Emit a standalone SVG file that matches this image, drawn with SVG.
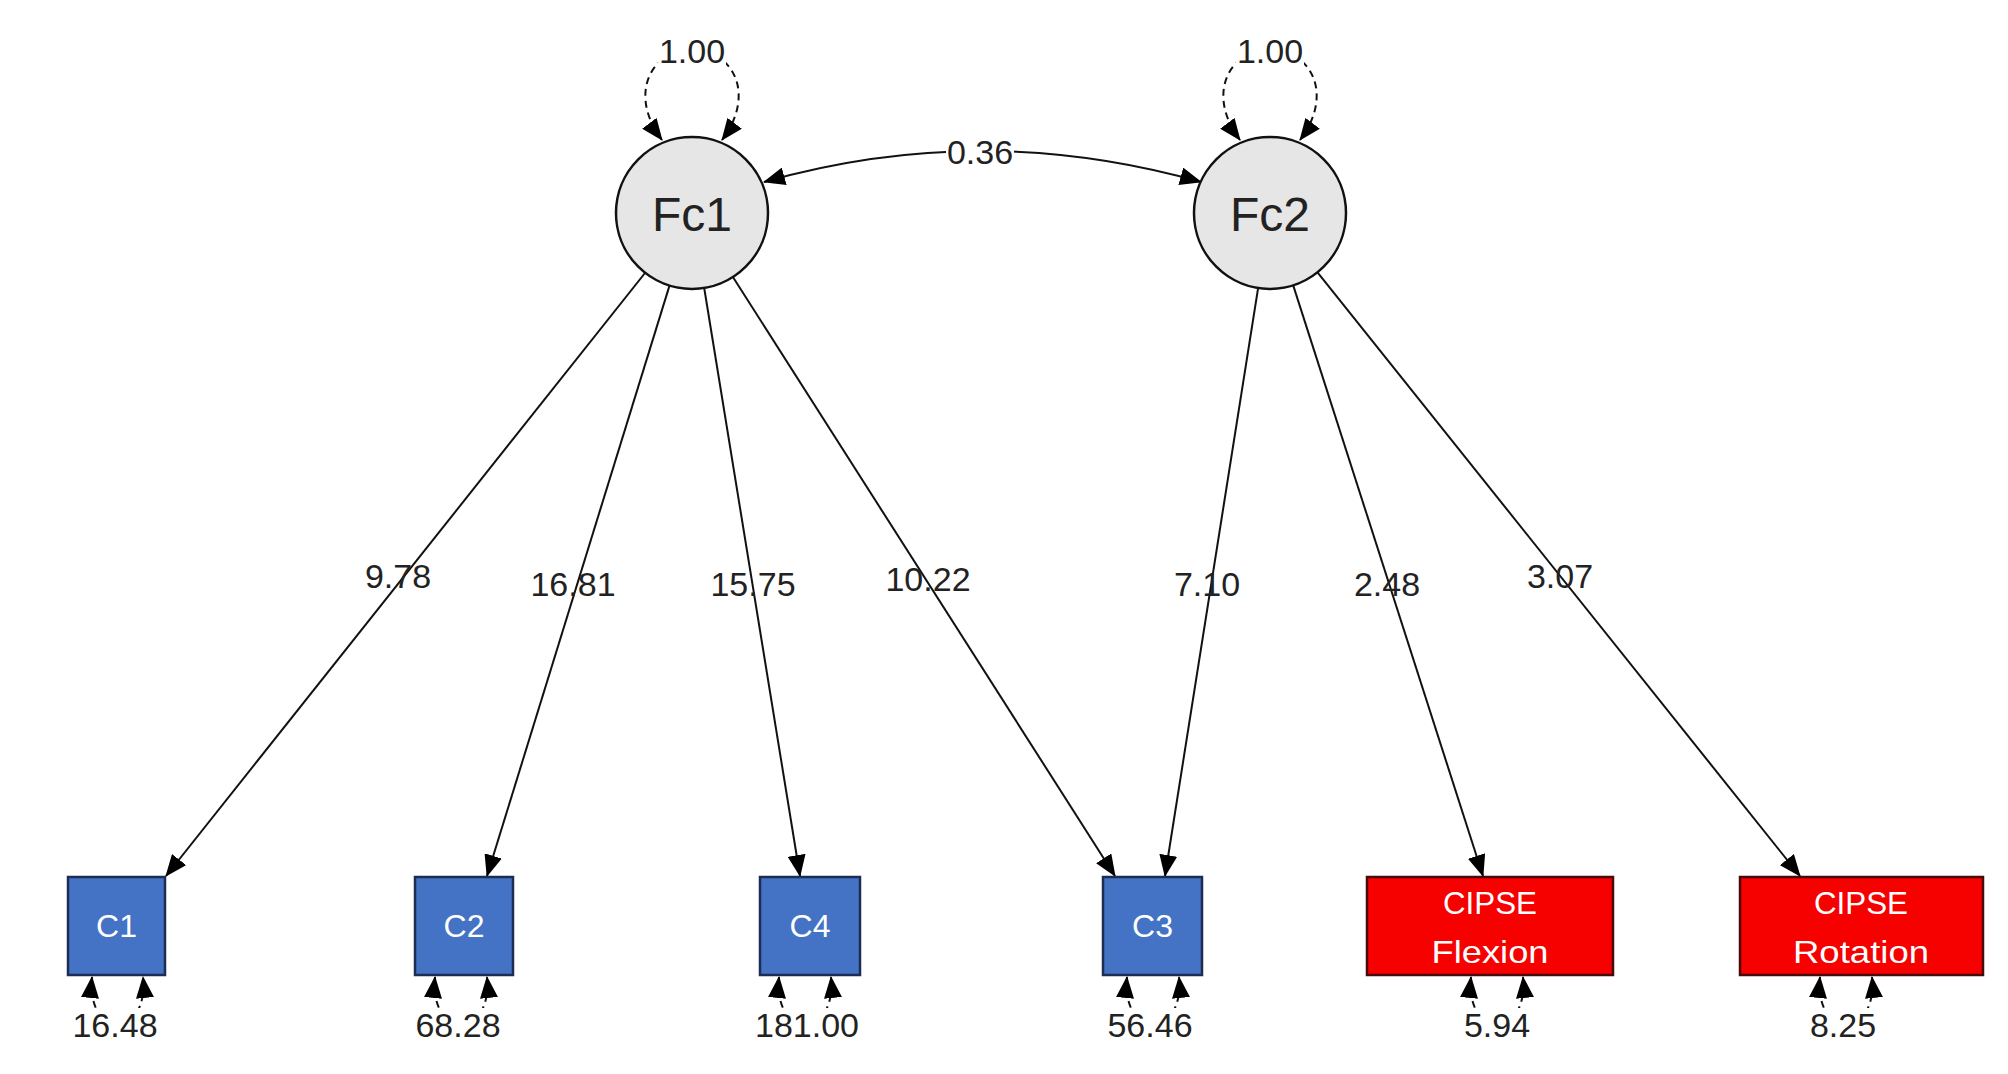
<svg xmlns="http://www.w3.org/2000/svg" width="2008" height="1074" viewBox="0 0 2008 1074">
<defs>
<marker id="ah" markerUnits="userSpaceOnUse" viewBox="0 0 22 18" markerWidth="22" markerHeight="18" refX="21" refY="9" orient="auto-start-reverse">
<path d="M0,0 L22,9 L0,18 Z" fill="#000"/>
</marker>
<style>
.edge{fill:none;stroke:#111;stroke-width:2;marker-end:url(#ah)}
.dbl{fill:none;stroke:#111;stroke-width:2;marker-start:url(#ah);marker-end:url(#ah)}
.dash{stroke-dasharray:7 5}
.lat{fill:#e6e6e6;stroke:#111;stroke-width:2.5}
.latt{font-family:"Liberation Sans",Arial,sans-serif;font-size:48px;fill:#222;text-anchor:middle}
.num{font-family:"Liberation Sans",Arial,sans-serif;font-size:34px;fill:#222;text-anchor:middle}
.blue{fill:#4472c4;stroke:#1c2c52;stroke-width:2.5}
.red{fill:#f70000;stroke:#4a0a0a;stroke-width:2.5}
.bt{font-family:"Liberation Sans",Arial,sans-serif;font-size:32px;fill:#fff;text-anchor:middle}
.lbg{fill:#fff}
</style>
</defs>
<rect width="2008" height="1074" fill="#fff"/>

<g id="connectors">
<!-- variances of latents -->
<path class="dbl dash" d="M662,140 C628,95 650,50 692,50 C734,50 756,95 722,140"/>
<path class="dbl dash" d="M1240,140 C1206,95 1228,50 1270,50 C1312,50 1334,95 1300,140"/>
<!-- covariance -->
<path class="dbl" d="M764,182 Q982,120 1201,182"/>
<!-- loadings -->
<line class="edge" x1="645" y1="273" x2="166" y2="876"/>
<line class="edge" x1="669.5" y1="285.6" x2="487" y2="876"/>
<line class="edge" x1="704.2" y1="288" x2="800" y2="876"/>
<line class="edge" x1="732.9" y1="277" x2="1115" y2="876"/>
<line class="edge" x1="1258.1" y1="288.1" x2="1165" y2="876"/>
<line class="edge" x1="1293.2" y1="285.4" x2="1483" y2="876"/>
<line class="edge" x1="1317.5" y1="272.4" x2="1800" y2="876"/>
<!-- residuals -->
<path class="dbl dash" d="M92,977 C86,1040 149,1040 143,977"/>
<path class="dbl dash" d="M435,977 C429,1040 493,1040 487,977"/>
<path class="dbl dash" d="M779,977 C773,1040 837,1040 831,977"/>
<path class="dbl dash" d="M1127,977 C1121,1040 1185,1040 1179,977"/>
<path class="dbl dash" d="M1471,977 C1465,1040 1529,1040 1523,977"/>
<path class="dbl dash" d="M1820,977 C1814,1040 1878,1040 1872,977"/>

<!-- labels -->
<rect class="lbg" x="658" y="38" width="68" height="27"/>
<text class="num" x="692" y="63">1.00</text>
<rect class="lbg" x="1236" y="38" width="68" height="27"/>
<text class="num" x="1270" y="63">1.00</text>
<rect class="lbg" x="946" y="139" width="68" height="27"/>
<text class="num" x="980" y="164">0.36</text>
<text class="num" x="398" y="588">9.78</text>
<text class="num" x="573" y="596">16.81</text>
<text class="num" x="753" y="596">15.75</text>
<text class="num" x="928" y="591">10.22</text>
<text class="num" x="1207" y="596">7.10</text>
<text class="num" x="1387" y="596">2.48</text>
<text class="num" x="1560" y="588">3.07</text>
<rect class="lbg" x="60" y="1008" width="112" height="40"/>
<text class="num" x="115" y="1037">16.48</text>
<rect class="lbg" x="403" y="1008" width="112" height="40"/>
<text class="num" x="458" y="1037">68.28</text>
<rect class="lbg" x="747" y="1008" width="120" height="40"/>
<text class="num" x="807" y="1037">181.00</text>
<rect class="lbg" x="1095" y="1008" width="112" height="40"/>
<text class="num" x="1150" y="1037">56.46</text>
<rect class="lbg" x="1447" y="1008" width="100" height="40"/>
<text class="num" x="1497" y="1037">5.94</text>
<rect class="lbg" x="1793" y="1008" width="100" height="40"/>
<text class="num" x="1843" y="1037">8.25</text>
</g>

<g id="Fc1"><circle class="lat" cx="692" cy="213" r="76"/><text class="latt" x="692" y="231">Fc1</text></g>
<g id="Fc2"><circle class="lat" cx="1270" cy="213" r="76"/><text class="latt" x="1270" y="231">Fc2</text></g>

<g id="C1"><rect class="blue" x="68" y="877" width="97" height="98"/><text class="bt" x="116.5" y="937">C1</text></g>
<g id="C2"><rect class="blue" x="415" y="877" width="98" height="98"/><text class="bt" x="464" y="937">C2</text></g>
<g id="C4"><rect class="blue" x="760" y="877" width="100" height="98"/><text class="bt" x="810" y="937">C4</text></g>
<g id="C3"><rect class="blue" x="1103" y="877" width="99" height="98"/><text class="bt" x="1152.5" y="937">C3</text></g>
<g id="CIPSE_Flexion"><rect class="red" x="1367" y="877" width="246" height="98"/>
<text class="bt" x="1490" y="914" font-size="38" textLength="94" lengthAdjust="spacingAndGlyphs">CIPSE</text>
<text class="bt" x="1490" y="963" font-size="38" textLength="117" lengthAdjust="spacingAndGlyphs">Flexion</text></g>
<g id="CIPSE_Rotation"><rect class="red" x="1740" y="877" width="243" height="98"/>
<text class="bt" x="1861" y="914" font-size="38" textLength="94" lengthAdjust="spacingAndGlyphs">CIPSE</text>
<text class="bt" x="1861" y="963" font-size="38" textLength="136" lengthAdjust="spacingAndGlyphs">Rotation</text></g>
</svg>
